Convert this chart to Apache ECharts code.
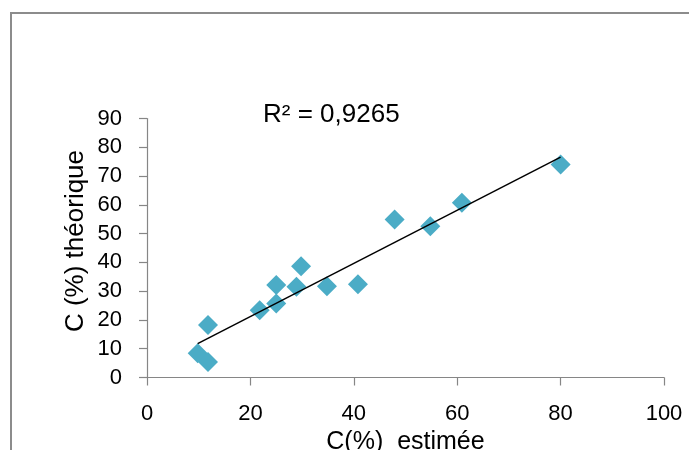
<!DOCTYPE html>
<html>
<head>
<meta charset="utf-8">
<script src="https://cdn.jsdelivr.net/npm/echarts@6/dist/echarts.min.js"></script>
<style>
  html, body { margin: 0; padding: 0; background: #fff; }
  #chart { width: 689px; height: 450px; }
</style>
</head>
<body>
<div id="chart"></div>
<script>
// points
var estimee = [9.8, 11.8, 11.8, 21.8, 25.0, 25.0, 28.9, 29.8, 34.8, 40.8, 47.9, 54.8, 60.9, 80.0];
var theorique = [8.4, 5.4, 18.2, 23.4, 25.7, 32.1, 31.5, 38.7, 31.7, 32.4, 54.9, 52.6, 60.7, 74.0];
// trend line ends
var trendX = [9.8, 80];
var trendY = [11.8, 76.6];
var r2Label = "R² = 0,9265";
var xTitle = "C(%)  estimée";
var yTitle = "C (%) théorique";

var pts = estimee.map(function (x, i) { return [x, theorique[i]]; });
var trend = trendX.map(function (x, i) { return [x, trendY[i]]; });

var chart = echarts.init(document.getElementById("chart"));
var axisColor = "#868686";
var font = "'Liberation Sans', Arial, sans-serif";

chart.setOption({
  animation: false,
  textStyle: { fontFamily: font },
  grid: { left: 147, right: 25, top: 118.5, bottom: 72.5, containLabel: false, outerBoundsMode: "none" },
  graphic: [
    {
      type: "rect",
      shape: { x: 11, y: 13, width: 800, height: 600 },
      style: { fill: "none", stroke: "#8c8c8c", lineWidth: 2 }
    },
    {
      type: "text",
      left: 263,
      top: 102,
      style: { text: r2Label, fontSize: 26, fill: "#000", fontFamily: font }
    },
    {
      type: "text",
      x: 76,
      y: 241,
      rotation: Math.PI / 2,
      style: {
        text: yTitle, fontSize: 26, fill: "#000", fontFamily: font,
        align: "center", verticalAlign: "middle"
      }
    }
  ],
  xAxis: {
    type: "value",
    min: 0, max: 100, interval: 20,
    name: xTitle,
    nameLocation: "middle",
    nameGap: 45,
    nameTextStyle: { fontSize: 25, color: "#000", fontFamily: font },
    splitLine: { show: false },
    axisLine: { show: true, lineStyle: { color: axisColor, width: 1.2 } },
    axisTick: { show: true, length: 8, lineStyle: { color: axisColor, width: 1.2 } },
    axisLabel: { fontSize: 22, color: "#000", margin: 25, fontFamily: font }
  },
  yAxis: {
    type: "value",
    min: 0, max: 90, interval: 10,
    splitLine: { show: false },
    axisLine: { show: true, lineStyle: { color: axisColor, width: 1.2 } },
    axisTick: { show: true, length: 8, lineStyle: { color: axisColor, width: 1.2 } },
    axisLabel: { fontSize: 22, color: "#000", margin: 25, fontFamily: font }
  },
  series: [
    {
      type: "line",
      data: trend,
      symbol: "none",
      lineStyle: { color: "#000", width: 1.5 },
      z: 3
    },
    {
      type: "scatter",
      data: pts,
      symbol: "diamond",
      symbolSize: 20,
      itemStyle: { color: "#4bacc6", opacity: 1 },
      z: 2
    }
  ]
});
</script>
</body>
</html>
